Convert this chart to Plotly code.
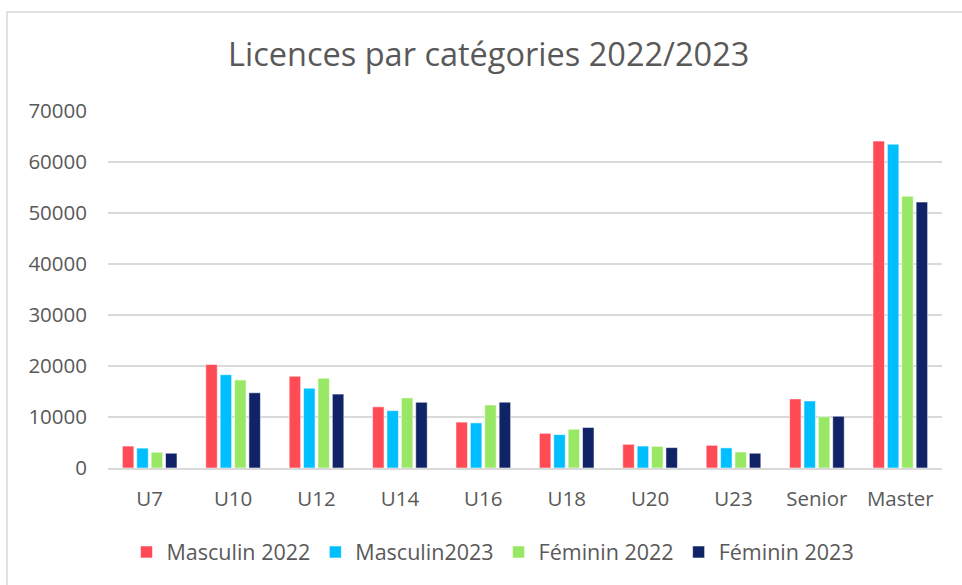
import plotly.graph_objects as go

categories = ["U7", "U10", "U12", "U14", "U16", "U18", "U20", "U23", "Senior", "Master"]
masculin_2022 = [4300, 20300, 18000, 12000, 9000, 6800, 4650, 4450, 13550, 64100]
masculin_2023 = [3900, 18300, 15650, 11250, 8850, 6550, 4300, 3950, 13150, 63500]
feminin_2022 = [3100, 17250, 17600, 13750, 12350, 7600, 4250, 3150, 10050, 53300]
feminin_2023 = [2900, 14750, 14500, 12900, 12900, 7950, 4000, 2900, 10150, 52150]
series_names = ["Masculin 2022", "Masculin2023", "Féminin 2022", "Féminin 2023"]
series_colors = ["#FF4B55", "#00BFFF", "#99E865", "#0F2366"]
y_ticks = [0, 10000, 20000, 30000, 40000, 50000, 60000, 70000]

FONT = "Open Sans"
GREY = "#595959"

fig = go.Figure()
for name, vals, col in zip(series_names, [masculin_2022, masculin_2023, feminin_2022, feminin_2023], series_colors):
    fig.add_trace(go.Bar(
        x=categories, y=vals, name=name,
        marker=dict(color=col, line=dict(color="rgba(255,255,255,0.55)", width=1)),
    ))

fig.update_layout(
    width=962, height=585,
    margin=dict(l=108, r=20, t=111, b=117),
    paper_bgcolor="white", plot_bgcolor="white",
    barmode="group", bargap=0.31, bargroupgap=0.2,
    font=dict(family=FONT, color=GREY, size=20),
    title=dict(text="Licences par catégories 2022/2023", x=0.508, xanchor="center",
               y=1 - 55 / 585, yanchor="middle", yref="container",
               font=dict(family=FONT, size=32.5, color=GREY)),
    legend=dict(orientation="h", x=493 / 962, xanchor="center", xref="container",
                y=1 - 552 / 585, yanchor="middle",
                yref="container", font=dict(size=21.5, color=GREY), itemwidth=30,
                traceorder="normal"),
    xaxis=dict(showgrid=False, showline=True, linecolor="#D9D9D9", linewidth=1.5,
               ticks="", ticklabelstandoff=12, tickfont=dict(size=20.5, color=GREY)),
    yaxis=dict(range=[0, 70000], tickvals=y_ticks, tickformat="d", showgrid=True,
               gridcolor="#D9D9D9", gridwidth=1.5, zeroline=False, showline=False, ticks="",
               ticklabelstandoff=20, tickfont=dict(size=20.5, color=GREY)),
    shapes=[dict(type="rect", xref="paper", yref="paper",
                 x0=(7 - 108) / 834, x1=(975 - 108) / 834,
                 y0=(468 - 600) / 357, y1=(468 - 12) / 357,
                 line=dict(color="#D9D9D9", width=1.5), fillcolor="rgba(0,0,0,0)", layer="below")],
)

fig.write_html("out.html", config={"displayModeBar": False},
               post_script="document.body.style.margin='0px';")
